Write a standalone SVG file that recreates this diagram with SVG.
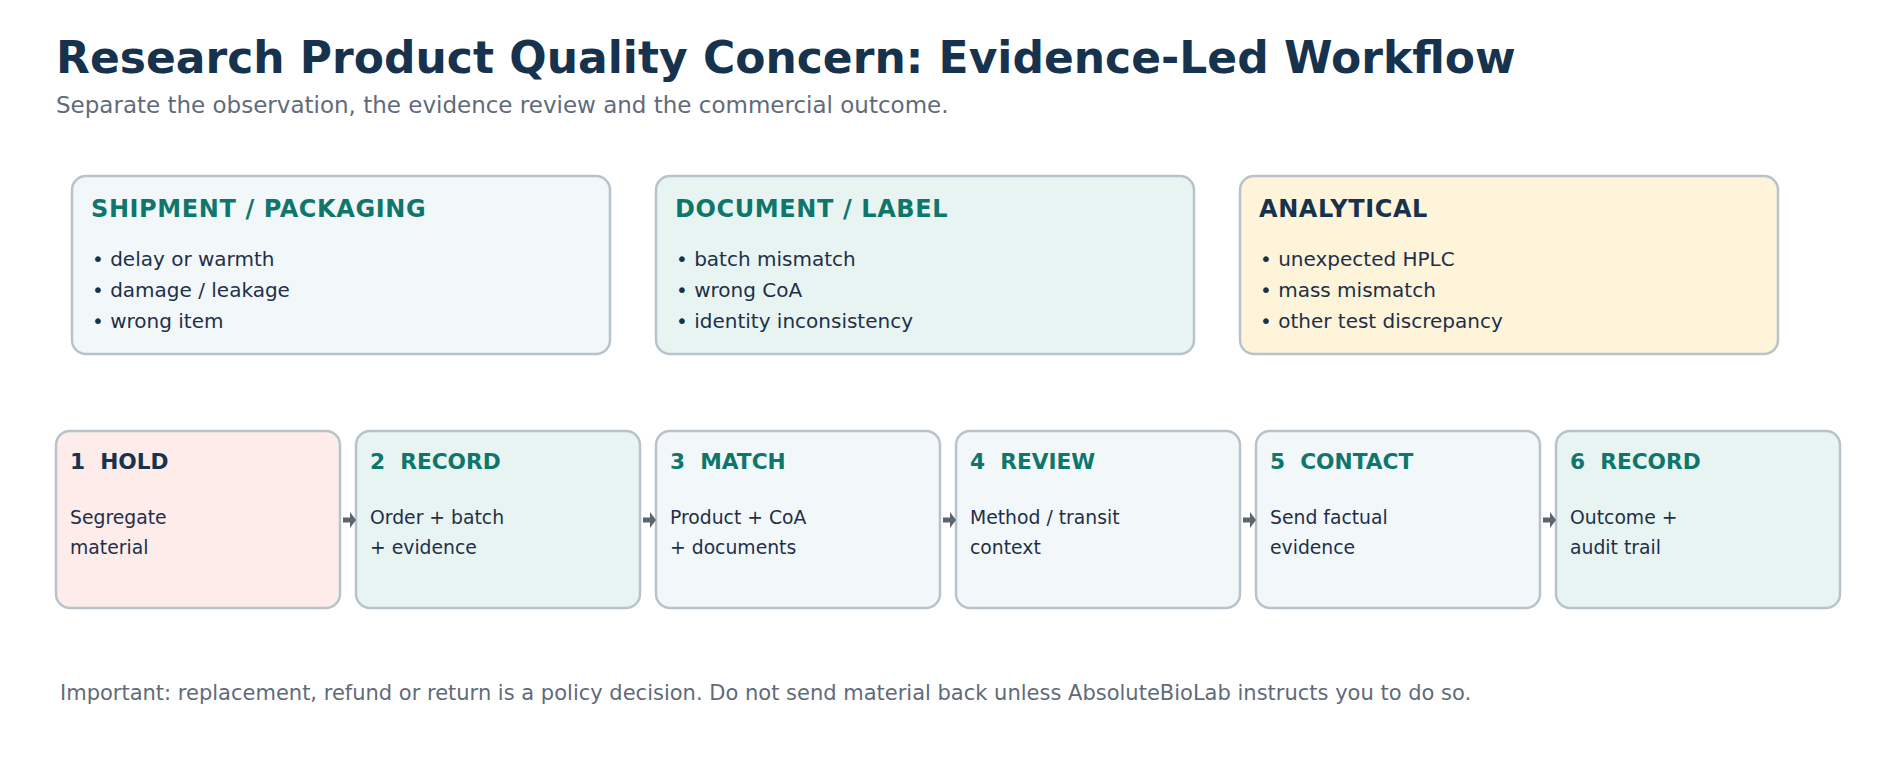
<svg xmlns="http://www.w3.org/2000/svg" width="1900" height="760" viewBox="0 0 1900 760">
<style>
text{font-family:"DejaVu Sans","Liberation Sans",sans-serif;}
.title{font-size:44px;font-weight:bold;fill:#17324d;}
.sub{font-size:23px;fill:#5f6b7a;}
.foot{font-size:21px;fill:#5f6b7a;}
.box{stroke:#b8c3cc;stroke-width:2.5;}
.cat{font-size:24px;font-weight:bold;letter-spacing:0.6px;}
.teal{fill:#0f766b;}
.navy{fill:#17324d;}
.item{font-size:20px;fill:#1e3048;}
.step{font-size:21.7px;font-weight:bold;white-space:pre;}
.body{font-size:18.8px;fill:#1e3048;}
.blue{fill:#f2f7fa;}
.green{fill:#e8f4f2;}
.cream{fill:#fdf4d9;}
.pink{fill:#fdecea;}
.conn line{stroke:#5b6570;stroke-width:5;}
.conn polygon{fill:#5b6570;}
</style>
<rect width="1900" height="760" fill="#ffffff"/>
<text class="title" x="56" y="73">Research Product Quality Concern: Evidence-Led Workflow</text>
<text class="sub" x="56" y="113">Separate the observation, the evidence review and the commercial outcome.</text>

<g id="cat-shipment">
<rect class="box blue" x="72" y="176" width="538" height="178" rx="14"/>
<text class="cat teal" x="91" y="217">SHIPMENT / PACKAGING</text>
<text class="item" x="92" y="266">• delay or warmth</text>
<text class="item" x="92" y="297">• damage / leakage</text>
<text class="item" x="92" y="328">• wrong item</text>
</g>
<g id="cat-document">
<rect class="box green" x="656" y="176" width="538" height="178" rx="14"/>
<text class="cat teal" x="675" y="217">DOCUMENT / LABEL</text>
<text class="item" x="676" y="266">• batch mismatch</text>
<text class="item" x="676" y="297">• wrong CoA</text>
<text class="item" x="676" y="328">• identity inconsistency</text>
</g>
<g id="cat-analytical">
<rect class="box cream" x="1240" y="176" width="538" height="178" rx="14"/>
<text class="cat navy" x="1259" y="217">ANALYTICAL</text>
<text class="item" x="1260" y="266">• unexpected HPLC</text>
<text class="item" x="1260" y="297">• mass mismatch</text>
<text class="item" x="1260" y="328">• other test discrepancy</text>
</g>

<g id="step1">
<rect class="box pink" x="56" y="431" width="284" height="177" rx="14"/>
<text class="step navy" x="70" y="469">1  HOLD</text>
<text class="body" x="70" y="524">Segregate</text>
<text class="body" x="70" y="554">material</text>
</g>
<g id="step2">
<rect class="box green" x="356" y="431" width="284" height="177" rx="14"/>
<text class="step teal" x="370" y="469">2  RECORD</text>
<text class="body" x="370" y="524">Order + batch</text>
<text class="body" x="370" y="554">+ evidence</text>
</g>
<g id="step3">
<rect class="box blue" x="656" y="431" width="284" height="177" rx="14"/>
<text class="step teal" x="670" y="469">3  MATCH</text>
<text class="body" x="670" y="524">Product + CoA</text>
<text class="body" x="670" y="554">+ documents</text>
</g>
<g id="step4">
<rect class="box blue" x="956" y="431" width="284" height="177" rx="14"/>
<text class="step teal" x="970" y="469">4  REVIEW</text>
<text class="body" x="970" y="524">Method / transit</text>
<text class="body" x="970" y="554">context</text>
</g>
<g id="step5">
<rect class="box blue" x="1256" y="431" width="284" height="177" rx="14"/>
<text class="step teal" x="1270" y="469">5  CONTACT</text>
<text class="body" x="1270" y="524">Send factual</text>
<text class="body" x="1270" y="554">evidence</text>
</g>
<g id="step6">
<rect class="box green" x="1556" y="431" width="284" height="177" rx="14"/>
<text class="step teal" x="1570" y="469">6  RECORD</text>
<text class="body" x="1570" y="524">Outcome +</text>
<text class="body" x="1570" y="554">audit trail</text>
</g>

<g id="connectors" class="conn">
<line x1="343" y1="520" x2="351" y2="520"/><polygon points="350,512 356,520 350,528"/>
<line x1="643" y1="520" x2="651" y2="520"/><polygon points="650,512 656,520 650,528"/>
<line x1="943" y1="520" x2="951" y2="520"/><polygon points="950,512 956,520 950,528"/>
<line x1="1243" y1="520" x2="1251" y2="520"/><polygon points="1250,512 1256,520 1250,528"/>
<line x1="1543" y1="520" x2="1551" y2="520"/><polygon points="1550,512 1556,520 1550,528"/>
</g>

<text class="foot" x="60" y="700">Important: replacement, refund or return is a policy decision. Do not send material back unless AbsoluteBioLab instructs you to do so.</text>
</svg>
